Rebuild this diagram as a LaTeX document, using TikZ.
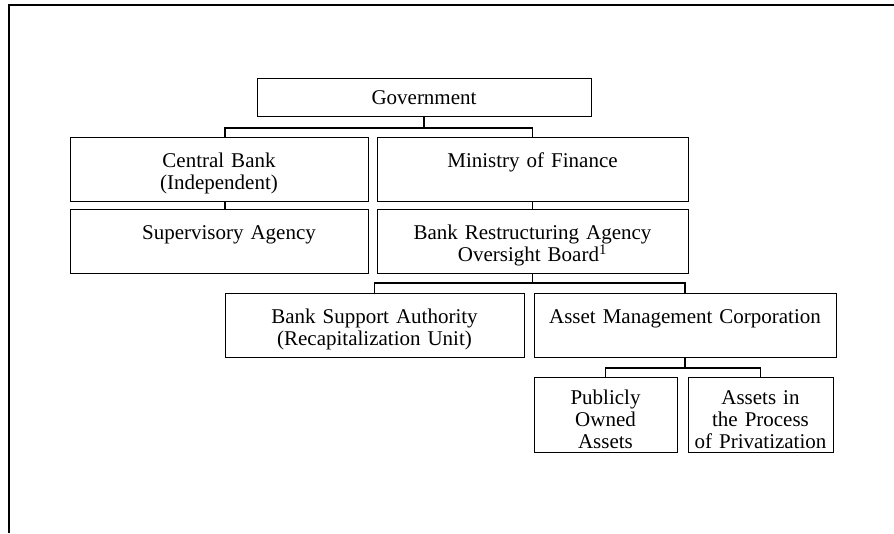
\documentclass[tikz,border=0pt]{standalone}
\usepackage{fontspec}
\setmainfont{Liberation Serif}

\tikzset{
  orgbox/.style={draw, line width=0.7pt, anchor=north, align=center, inner xsep=0pt, inner ysep=0pt,
    font=\fontsize{15.75}{16.5}\selectfont},
  toprow/.style={orgbox, text height=19.5pt, text depth=9pt},
  midrow/.style={orgbox, text height=22.5pt, text depth=25.5pt},
  lowrow/.style={orgbox, text height=20.25pt, text depth=36pt},
  link/.style={line width=1.1pt}
}

\begin{document}
\begin{tikzpicture}[x=0.75pt,y=0.75pt,yscale=-1,xscale=1]
\useasboundingbox (0,0) rectangle (894,533);
% frame
\draw [line width=1.1pt] (894,5) -- (9,5) -- (9,533);

\node [toprow, text width=250.5pt] (gov) at (424,78) {Government};

\node [midrow, text width=223.5pt] (cb) at (219,137) {Central Bank\\(Independent)};
\node [midrow, text width=233.25pt] (mof) at (532.5,137) {Ministry of Finance};
\node [midrow, text width=223.5pt] (sa) at (219,209) {\hspace*{15pt}Supervisory Agency};
\node [midrow, text width=233.25pt] (bra) at (532.5,209) {Bank Restructuring Agency\\Oversight Board\textsuperscript{1}};

\node [midrow, text width=224.25pt] (bsa) at (374.5,293) {Bank Support Authority\\(Recapitalization Unit)};
\node [midrow, text width=226.5pt] (amc) at (685,293) {Asset Management Corporation};

\node [lowrow, text width=107.25pt] (poa) at (605.5,377) {Publicly\\Owned\\Assets};
\node [lowrow, text width=108.75pt] (api) at (760.5,377) {Assets in\\the Process\\of Privatization};

% connectors
\draw [link] (gov.south) -- ++(0,11) coordinate (j1);
\draw [link] ([xshift=4.5pt]cb.north) |- (j1) -| (mof.north);
\draw [link] ([xshift=4.5pt]cb.south) -- ([xshift=4.5pt]sa.north);
\draw [link] (mof.south) -- (bra.north);
\draw [link] (bra.south) -- ++(0,9) coordinate (j2);
\draw [link] (bsa.north) |- (j2) -| (amc.north);
\draw [link] (amc.south) -- ++(0,10) coordinate (j3);
\draw [link] (poa.north) |- (j3) -| (api.north);
\end{tikzpicture}
\end{document}
